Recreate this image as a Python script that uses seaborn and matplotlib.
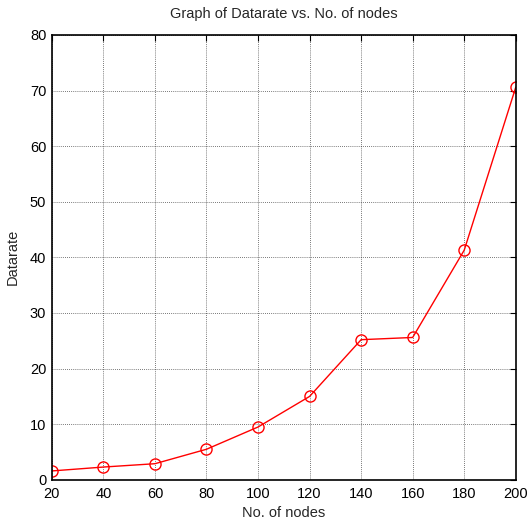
import matplotlib
matplotlib.use("Agg")
import matplotlib.pyplot as plt
import seaborn as sns
import pandas as pd

nodes = [20, 40, 60, 80, 100, 120, 140, 160, 180, 200]
datarate = [1.6, 2.3, 2.9, 5.5, 9.5, 15.0, 25.2, 25.6, 41.3, 70.6]
x_ticks = [20, 40, 60, 80, 100, 120, 140, 160, 180, 200]
y_ticks = [0, 10, 20, 30, 40, 50, 60, 70, 80]

sns.set_theme(style="white")
plt.rcParams["font.family"] = ["Liberation Sans", "DejaVu Sans"]

df = pd.DataFrame({"nodes": nodes, "datarate": datarate})

fig = plt.figure(figsize=(5.29, 5.21), dpi=100)
ax = fig.add_axes([0.098, 0.079, 0.877, 0.854])

sns.lineplot(data=df, x="nodes", y="datarate", ax=ax, color="red",
             linewidth=1.0, marker="o", markersize=8,
             markerfacecolor="none", markeredgecolor="red",
             markeredgewidth=1.0)

ax.set_xlim(20, 200)
ax.set_ylim(0, 80)
ax.set_xticks(x_ticks)
ax.set_yticks(y_ticks)
ax.grid(True, color="black", linestyle=(0, (1, 1.5)), linewidth=0.6, alpha=0.7)
ax.tick_params(axis="both", direction="in", length=4, width=0.8, labelsize=10.5,
               top=True, right=True, colors="black")
ax.tick_params(axis="x", pad=5)
ax.tick_params(axis="y", pad=4)
for s in ax.spines.values():
    s.set_color("black")
    s.set_linewidth(1.2)
    s.set_visible(True)

ax.set_title("Graph of Datarate vs. No. of nodes", fontsize=10.5, pad=12)
ax.set_xlabel("No. of nodes", fontsize=10.5, labelpad=4)
ax.set_ylabel("Datarate", fontsize=10.5, labelpad=7)

fig.savefig("out.png", dpi=100)
